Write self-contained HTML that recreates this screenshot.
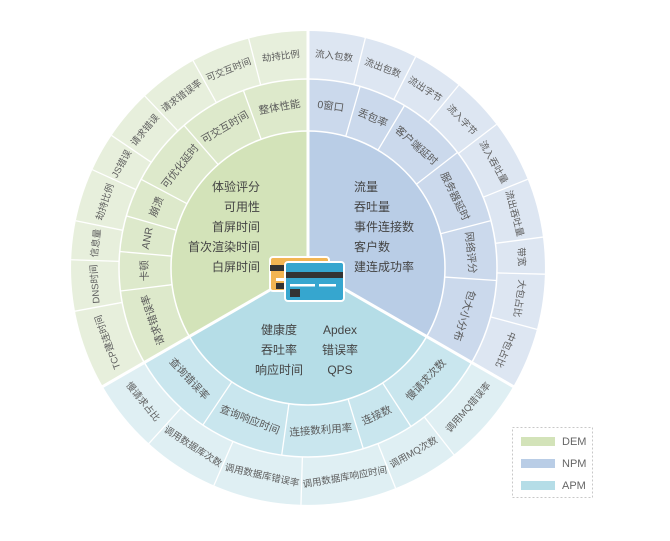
<!DOCTYPE html>
<html><head><meta charset="utf-8"><style>
body{margin:0;background:#fff;width:670px;height:541px;overflow:hidden}
svg{display:block}
text{font-family:"Liberation Sans","Noto Sans CJK SC",sans-serif}
.m{font-size:10.5px;fill:#5a5a5a}
.o{font-size:9.5px;fill:#5e5e5e}
.i{font-size:12px;fill:#444}
</style></head><body>
<svg width="670" height="541" viewBox="0 0 670 541">
<!-- DEM -->
<path d="M308,268 L102.8,386.5 A237,237 0 0 1 308,31 Z" fill="#e7efdc"/>
<path d="M308,268 L144.3,362.5 A189,189 0 0 1 308,79 Z" fill="#dde9cb"/>
<path d="M308,268 L189.4,336.5 A137,137 0 0 1 308,131 Z" fill="#d3e3b9"/>
<!-- NPM -->
<path d="M308,268 L308,31 A237,237 0 0 1 513.2,386.5 Z" fill="#dde6f2"/>
<path d="M308,268 L308,79 A189,189 0 0 1 471.7,362.5 Z" fill="#cbd9ec"/>
<path d="M308,268 L308,131 A137,137 0 0 1 426.6,336.5 Z" fill="#b9cde6"/>
<!-- APM -->
<path d="M308,268 L513.2,386.5 A237,237 0 0 1 102.8,386.5 Z" fill="#dfeff3"/>
<path d="M308,268 L471.7,362.5 A189,189 0 0 1 144.3,362.5 Z" fill="#c9e6ee"/>
<path d="M308,268 L426.6,336.5 A137,137 0 0 1 189.4,336.5 Z" fill="#b5dde7"/>
<circle cx="308" cy="268" r="137" fill="none" stroke="#fff" stroke-width="1.5"/>
<circle cx="308" cy="268" r="189" fill="none" stroke="#fff" stroke-width="1.5"/>
<g stroke="#fff" stroke-width="1.3">
<!-- middle ring boundaries -->
<g>
<line x1="308" y1="131" x2="308" y2="79" transform="rotate(340 308 268)"/>
<line x1="308" y1="131" x2="308" y2="79" transform="rotate(319 308 268)"/>
<line x1="308" y1="131" x2="308" y2="79" transform="rotate(298 308 268)"/>
<line x1="308" y1="131" x2="308" y2="79" transform="rotate(286 308 268)"/>
<line x1="308" y1="131" x2="308" y2="79" transform="rotate(275 308 268)"/>
<line x1="308" y1="131" x2="308" y2="79" transform="rotate(263 308 268)"/>
<line x1="308" y1="131" x2="308" y2="79" transform="rotate(16 308 268)"/>
<line x1="308" y1="131" x2="308" y2="79" transform="rotate(30.7 308 268)"/>
<line x1="308" y1="131" x2="308" y2="79" transform="rotate(52.3 308 268)"/>
<line x1="308" y1="131" x2="308" y2="79" transform="rotate(75.5 308 268)"/>
<line x1="308" y1="131" x2="308" y2="79" transform="rotate(93.8 308 268)"/>
<line x1="308" y1="131" x2="308" y2="79" transform="rotate(147 308 268)"/>
<line x1="308" y1="131" x2="308" y2="79" transform="rotate(163 308 268)"/>
<line x1="308" y1="131" x2="308" y2="79" transform="rotate(188 308 268)"/>
<line x1="308" y1="131" x2="308" y2="79" transform="rotate(213.8 308 268)"/>
</g>
<!-- outer ring boundaries -->
<g>
<line x1="308" y1="79" x2="308" y2="31" transform="rotate(345.5 308 268)"/>
<line x1="308" y1="79" x2="308" y2="31" transform="rotate(331 308 268)"/>
<line x1="308" y1="79" x2="308" y2="31" transform="rotate(316.5 308 268)"/>
<line x1="308" y1="79" x2="308" y2="31" transform="rotate(304 308 268)"/>
<line x1="308" y1="79" x2="308" y2="31" transform="rotate(294.5 308 268)"/>
<line x1="308" y1="79" x2="308" y2="31" transform="rotate(281.5 308 268)"/>
<line x1="308" y1="79" x2="308" y2="31" transform="rotate(272 308 268)"/>
<line x1="308" y1="79" x2="308" y2="31" transform="rotate(259.5 308 268)"/>
<line x1="308" y1="79" x2="308" y2="31" transform="rotate(14 308 268)"/>
<line x1="308" y1="79" x2="308" y2="31" transform="rotate(27 308 268)"/>
<line x1="308" y1="79" x2="308" y2="31" transform="rotate(39.5 308 268)"/>
<line x1="308" y1="79" x2="308" y2="31" transform="rotate(52.7 308 268)"/>
<line x1="308" y1="79" x2="308" y2="31" transform="rotate(68 308 268)"/>
<line x1="308" y1="79" x2="308" y2="31" transform="rotate(82.5 308 268)"/>
<line x1="308" y1="79" x2="308" y2="31" transform="rotate(91.5 308 268)"/>
<line x1="308" y1="79" x2="308" y2="31" transform="rotate(105 308 268)"/>
<line x1="308" y1="79" x2="308" y2="31" transform="rotate(142 308 268)"/>
<line x1="308" y1="79" x2="308" y2="31" transform="rotate(158.3 308 268)"/>
<line x1="308" y1="79" x2="308" y2="31" transform="rotate(181.7 308 268)"/>
<line x1="308" y1="79" x2="308" y2="31" transform="rotate(203.4 308 268)"/>
<line x1="308" y1="79" x2="308" y2="31" transform="rotate(222.2 308 268)"/>
</g>
</g>
<!-- main dividers -->
<g stroke="#fff" stroke-width="3">
<line x1="308" y1="268" x2="308" y2="29"/>
<line x1="308" y1="268" x2="101" y2="387.5"/>
<line x1="308" y1="268" x2="515" y2="387.5"/>
</g>

<!-- DEM middle labels -->
<g class="m" text-anchor="middle" dominant-baseline="central">
<text x="308" y="105" transform="rotate(350 308 268)">整体性能</text>
<text x="308" y="105" transform="rotate(329.5 308 268)">可交互时间</text>
<text x="308" y="105" transform="rotate(308.5 308 268)">可优化延时</text>
<text x="308" y="105" transform="rotate(292 308 268)">崩溃</text>
<text x="308" y="105" transform="rotate(280.5 308 268)">ANR</text>
<text x="308" y="105" transform="rotate(269 308 268)">卡顿</text>
<text x="308" y="105" transform="rotate(251.5 308 268)">请求错误率</text>
<!-- NPM middle -->
<text x="308" y="105" transform="rotate(8 308 268)">0窗口</text>
<text x="308" y="105" transform="rotate(23.3 308 268)">丢包率</text>
<text x="308" y="105" transform="rotate(41.5 308 268)">客户端延时</text>
<text x="308" y="105" transform="rotate(64 308 268)">服务器延时</text>
<text x="308" y="105" transform="rotate(84.6 308 268)">网络评分</text>
<text x="308" y="105" transform="rotate(106.9 308 268)">包大小分布</text>
</g>
<!-- APM middle -->
<g class="m" text-anchor="middle" dominant-baseline="central">
<text x="308" y="431" transform="rotate(-46.5 308 268)">慢请求次数</text>
<text x="308" y="431" transform="rotate(-25 308 268)">连接数</text>
<text x="308" y="431" transform="rotate(-4.5 308 268)">连接数利用率</text>
<text x="308" y="431" transform="rotate(21 308 268)">查询响应时间</text>
<text x="308" y="431" transform="rotate(47 308 268)">查询错误率</text>
</g>
<!-- DEM outer -->
<g class="o" text-anchor="middle" dominant-baseline="central">
<text x="308" y="55" transform="rotate(352.7 308 268)">劫持比例</text>
<text x="308" y="55" transform="rotate(338.2 308 268)">可交互时间</text>
<text x="308" y="55" transform="rotate(323.7 308 268)">请求错误率</text>
<text x="308" y="55" transform="rotate(310.2 308 268)">请求错误</text>
<text x="308" y="55" transform="rotate(299.2 308 268)">JS错误</text>
<text x="308" y="55" transform="rotate(288 308 268)">劫持比例</text>
<text x="308" y="55" transform="rotate(276.7 308 268)">信息量</text>
<text x="308" y="55" transform="rotate(265.7 308 268)">DNS时间</text>
<text x="308" y="55" transform="rotate(249.7 308 268)">TCP建连时间</text>
<!-- NPM outer -->
<text x="308" y="55" transform="rotate(7 308 268)">流入包数</text>
<text x="308" y="55" transform="rotate(20.5 308 268)">流出包数</text>
<text x="308" y="55" transform="rotate(33.2 308 268)">流出字节</text>
<text x="308" y="55" transform="rotate(46.1 308 268)">流入字节</text>
<text x="308" y="55" transform="rotate(60.3 308 268)">流入吞吐量</text>
<text x="308" y="55" transform="rotate(75.2 308 268)">流出吞吐量</text>
<text x="308" y="55" transform="rotate(87 308 268)">带宽</text>
<text x="308" y="55" transform="rotate(98.2 308 268)">大包占比</text>
<text x="308" y="55" transform="rotate(112.5 308 268)">中包占比</text>
</g>
<!-- APM outer -->
<g class="o" text-anchor="middle" dominant-baseline="central">
<text x="308" y="481" transform="rotate(-49 308 268)">调用MQ错误率</text>
<text x="308" y="481" transform="rotate(-29.8 308 268)">调用MQ次数</text>
<text x="308" y="481" transform="rotate(-10 308 268)">调用数据库响应时间</text>
<text x="308" y="481" transform="rotate(12.5 308 268)">调用数据库错误率</text>
<text x="308" y="481" transform="rotate(32.8 308 268)">调用数据库次数</text>
<text x="308" y="481" transform="rotate(51 308 268)">慢请求占比</text>
</g>

<!-- inner texts -->
<g class="i" text-anchor="end">
<text x="260" y="191">体验评分</text>
<text x="260" y="211">可用性</text>
<text x="260" y="231">首屏时间</text>
<text x="260" y="251">首次渲染时间</text>
<text x="260" y="271">白屏时间</text>
</g>
<g class="i">
<text x="354" y="191">流量</text>
<text x="354" y="211">吞吐量</text>
<text x="354" y="231">事件连接数</text>
<text x="354" y="251">客户数</text>
<text x="354" y="271">建连成功率</text>
</g>
<g class="i" text-anchor="middle">
<text x="279" y="334">健康度</text>
<text x="340" y="334">Apdex</text>
<text x="279" y="354">吞吐率</text>
<text x="340" y="354">错误率</text>
<text x="279" y="374">响应时间</text>
<text x="340" y="374">QPS</text>
</g>

<!-- cards -->
<rect x="270" y="257" width="59" height="34" rx="3" fill="#f2b552" stroke="#fff" stroke-width="2"/>
<rect x="270" y="265" width="59" height="6" fill="#333"/>
<rect x="276" y="278" width="14" height="3" fill="#fff"/>
<rect x="276" y="283" width="10" height="6" fill="#333"/>
<rect x="285" y="262" width="59" height="39" rx="3" fill="#36a6cf" stroke="#fff" stroke-width="2"/>
<rect x="286" y="272" width="57" height="6" fill="#333"/>
<rect x="290" y="284" width="25" height="2.5" fill="#fff"/>
<rect x="319" y="284" width="17" height="2.5" fill="#fff"/>
<rect x="290" y="289" width="10" height="8" fill="#333"/>

<!-- legend -->
<rect x="512.5" y="427.5" width="80" height="70" fill="none" stroke="#c8c8c8" stroke-dasharray="2,2"/>
<rect x="521" y="437" width="34" height="9" fill="#d3e3b9"/>
<rect x="521" y="459" width="34" height="9" fill="#b9cde6"/>
<rect x="521" y="481" width="34" height="9" fill="#b5dde7"/>
<g font-size="11" fill="#666">
<text x="562" y="445">DEM</text>
<text x="562" y="467">NPM</text>
<text x="562" y="489">APM</text>
</g>
</svg>
</body></html>
